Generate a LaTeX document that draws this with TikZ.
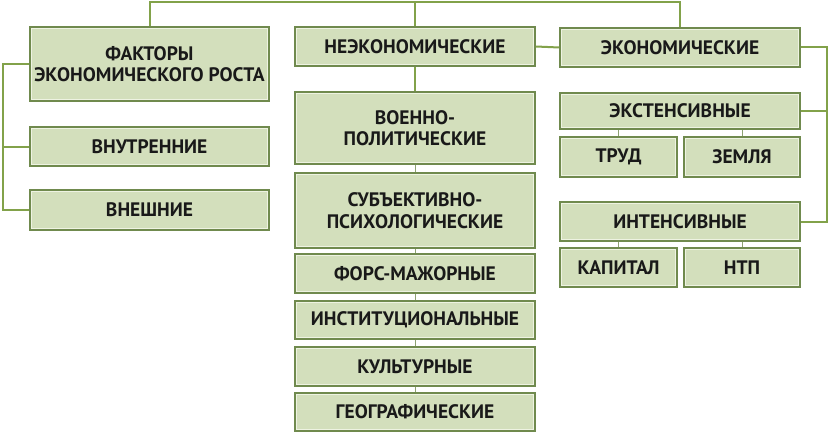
\documentclass[tikz,border=0pt]{standalone}
\usepackage{fontspec}
\setmainfont{PT Sans}
\definecolor{boxfill}{HTML}{D3DFBC}
\definecolor{boxedge}{HTML}{708A4E}
\definecolor{boxinner}{HTML}{EEF3E2}
\definecolor{conn}{HTML}{82A24A}
\tikzset{
  fbox/.style={draw=boxedge, line width=1.8pt, fill=boxfill, inner sep=0pt,
    align=center, font=\bfseries\fontsize{19.5}{21.5}\selectfont, text=black!90,
    path picture={\draw[boxinner, line width=1.2pt]
      ([shift={(1.6pt,-1.6pt)}]path picture bounding box.north west) rectangle
      ([shift={(-1.6pt,1.6pt)}]path picture bounding box.south east);}},
  thick conn/.style={draw=conn, line width=2pt},
  thin conn/.style={draw=boxedge!80, line width=1pt}
}
\begin{document}
\begin{tikzpicture}[x=1pt,y=-1pt]
\useasboundingbox (0,0) rectangle (829,433);
% left column
\node[fbox, minimum width=239pt, minimum height=74pt] (F) at (149.5,64) {ФАКТОРЫ\\ЭКОНОМИЧЕСКОГО РОСТА};
\node[fbox, minimum width=239pt, minimum height=39pt] (Vn) at (149.5,146.5) {ВНУТРЕННИЕ};
\node[fbox, minimum width=239pt, minimum height=40pt] (Ve) at (149.5,210) {ВНЕШНИЕ};
% middle column
\node[fbox, minimum width=240pt, minimum height=39pt] (Ne) at (415,46.5) {НЕЭКОНОМИЧЕСКИЕ};
\node[fbox, minimum width=240pt, minimum height=72pt] (Vp) at (415,128) {ВОЕННО-\\ПОЛИТИЧЕСКИЕ};
\node[fbox, minimum width=240pt, minimum height=75pt] (Sp) at (415,210.5) {СУБЪЕКТИВНО-\\ПСИХОЛОГИЧЕСКИЕ};
\node[fbox, minimum width=240pt, minimum height=39pt] (Fm) at (415,273.5) {ФОРС-МАЖОРНЫЕ};
\node[fbox, minimum width=240pt, minimum height=38pt] (In) at (415,320) {ИНСТИТУЦИОНАЛЬНЫЕ};
\node[fbox, minimum width=240pt, minimum height=39pt] (Ku) at (415,366.5) {КУЛЬТУРНЫЕ};
\node[fbox, minimum width=240pt, minimum height=38pt] (Ge) at (415,412) {ГЕОГРАФИЧЕСКИЕ};
% right column
\node[fbox, minimum width=240pt, minimum height=39pt] (Ec) at (680,47.5) {ЭКОНОМИЧЕСКИЕ};
\node[fbox, minimum width=240pt, minimum height=36pt] (Ex) at (680,111) {ЭКСТЕНСИВНЫЕ};
\node[fbox, minimum width=117pt, minimum height=40pt] (Tr) at (618.5,157) {ТРУД};
\node[fbox, minimum width=116pt, minimum height=40pt] (Ze) at (742,157) {ЗЕМЛЯ};
\node[fbox, minimum width=240pt, minimum height=39pt] (It) at (680,221.5) {ИНТЕНСИВНЫЕ};
\node[fbox, minimum width=117pt, minimum height=39pt] (Ka) at (618.5,267.5) {КАПИТАЛ};
\node[fbox, minimum width=116pt, minimum height=39pt] (Nt) at (742,267.5) {НТП};
% connectors
\coordinate (top) at (0,2);
\coordinate (lft) at (3,0);
\coordinate (rgt) at (827,0);
\draw[thick conn] (F.north) -- (F.north |- top) -- (Ec.north |- top) -- (Ec.north);
\draw[thick conn] (Ne.north |- top) -- (Ne.north);
\draw[thick conn] (Ne.east) -- (Ec.west);
\draw[thick conn] (F.west) -- (F.west -| lft) -- (Ve.west -| lft) -- (Ve.west);
\draw[thick conn] (Vn.west -| lft) -- (Vn.west);
\draw[thick conn] (Ec.east) -- (Ec.east -| rgt) -- (It.east -| rgt) -- (It.east);
\draw[thick conn] (Ex.east -| rgt) -- (Ex.east);
\draw[thick conn] (Ne.south) -- (Vp.north);
\draw[thin conn] (Vp.south) -- (Sp.north);
\draw[thin conn] (Sp.south) -- (Fm.north);
\draw[thin conn] (Fm.south) -- (In.north);
\draw[thin conn] (In.south) -- (Ku.north);
\draw[thin conn] (Ku.south) -- (Ge.north);
\draw[thin conn] (Tr.north |- Ex.south) -- (Tr.north);
\draw[thin conn] (Ze.north |- Ex.south) -- (Ze.north);
\draw[thin conn] (Ka.north |- It.south) -- (Ka.north);
\draw[thin conn] (Nt.north |- It.south) -- (Nt.north);
\end{tikzpicture}
\end{document}
